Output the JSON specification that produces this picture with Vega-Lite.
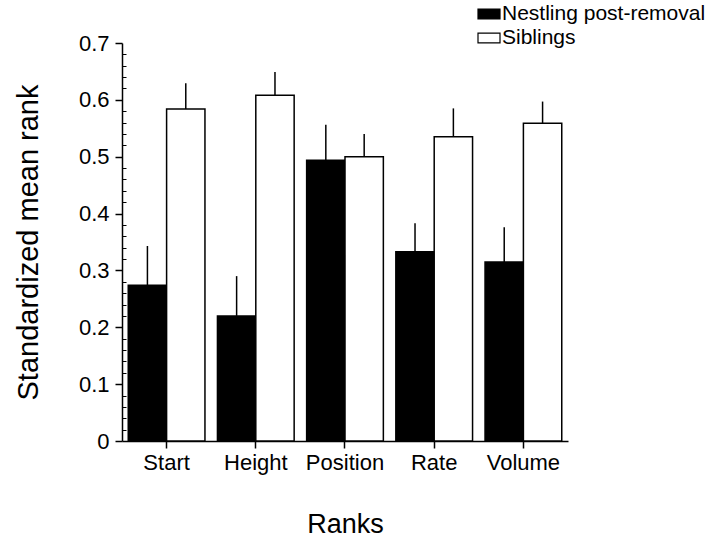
{
  "$schema": "https://vega.github.io/schema/vega-lite/v6.json",
  "width": 446,
  "height": 398,
  "autosize": "none",
  "padding": {"left": 122, "top": 43, "right": 142, "bottom": 98},
  "background": "white",
  "config": {
    "view": {"stroke": null},
    "font": "Liberation Sans",
    "axis": {
      "domainColor": "black",
      "domainWidth": 1.5,
      "tickColor": "black",
      "tickWidth": 1.5,
      "labelColor": "black",
      "titleColor": "black",
      "labelFont": "Liberation Sans",
      "titleFont": "Liberation Sans",
      "titleFontWeight": "normal",
      "grid": false
    }
  },
  "data": {
    "values": [
      {"rank": "Start", "group": "Nestling post-removal", "mean": 0.274, "upper": 0.343},
      {"rank": "Start", "group": "Siblings", "mean": 0.584, "upper": 0.629},
      {"rank": "Height", "group": "Nestling post-removal", "mean": 0.220, "upper": 0.290},
      {"rank": "Height", "group": "Siblings", "mean": 0.608, "upper": 0.649},
      {"rank": "Position", "group": "Nestling post-removal", "mean": 0.494, "upper": 0.556},
      {"rank": "Position", "group": "Siblings", "mean": 0.500, "upper": 0.540},
      {"rank": "Rate", "group": "Nestling post-removal", "mean": 0.333, "upper": 0.383},
      {"rank": "Rate", "group": "Siblings", "mean": 0.535, "upper": 0.585},
      {"rank": "Volume", "group": "Nestling post-removal", "mean": 0.315, "upper": 0.376},
      {"rank": "Volume", "group": "Siblings", "mean": 0.559, "upper": 0.597}
    ]
  },
  "layer": [
    {
      "mark": {"type": "bar", "stroke": "black", "strokeWidth": 1.5},
      "encoding": {
        "x": {
          "field": "rank",
          "type": "nominal",
          "sort": ["Start", "Height", "Position", "Rate", "Volume"],
          "scale": {"paddingInner": 0.14, "paddingOuter": 0.07},
          "axis": {
            "title": "Ranks",
            "titleFontSize": 27,
            "titleY": 91,
            "titleBaseline": "alphabetic",
            "labelFontSize": 22,
            "labelAngle": 0,
            "labelPadding": 4,
            "tickSize": 7
          }
        },
        "xOffset": {
          "field": "group",
          "type": "nominal",
          "sort": ["Nestling post-removal", "Siblings"],
          "scale": {"paddingInner": 0, "paddingOuter": 0}
        },
        "y": {
          "field": "mean",
          "type": "quantitative",
          "scale": {"domain": [0, 0.7], "nice": false, "zero": true},
          "axis": {
            "title": "Standardized mean rank",
            "titleFontSize": 29,
            "titleX": -94,
            "titleY": 199,
            "titleAngle": -90,
            "titleAlign": "center",
            "titleBaseline": "middle",
            "values": [0, 0.1, 0.2, 0.3, 0.4, 0.5, 0.6, 0.7],
            "format": ".1~f",
            "labelFontSize": 22,
            "labelPadding": 6,
            "tickSize": 7
          }
        },
        "fill": {
          "field": "group",
          "type": "nominal",
          "scale": {"domain": ["Nestling post-removal", "Siblings"], "range": ["black", "white"]},
          "legend": {
            "title": null,
            "orient": "none",
            "legendX": 355,
            "legendY": -41,
            "padding": 0,
            "symbolType": "M-1,-0.45H1V0.45H-1Z",
            "symbolSize": 484,
            "symbolStrokeColor": "black",
            "symbolStrokeWidth": 1.2,
            "labelFontSize": 21,
            "labelColor": "black",
            "labelFont": "Liberation Sans",
            "labelOffset": 1,
            "rowPadding": 2,
            "labelLimit": 400
          }
        }
      }
    },
    {
      "mark": {"type": "rule", "color": "black", "strokeWidth": 1.5},
      "encoding": {
        "x": {"field": "rank", "type": "nominal", "sort": ["Start", "Height", "Position", "Rate", "Volume"]},
        "xOffset": {"field": "group", "type": "nominal", "sort": ["Nestling post-removal", "Siblings"]},
        "y": {
          "field": "mean",
          "type": "quantitative",
          "axis": {
            "orient": "left",
            "title": null,
            "domain": false,
            "labels": false,
            "tickSize": -4,
            "tickWidth": 1,
            "values": [0.02, 0.04, 0.06, 0.08, 0.12, 0.14, 0.16, 0.18, 0.22, 0.24, 0.26, 0.28, 0.32, 0.34, 0.36, 0.38, 0.42, 0.44, 0.46, 0.48, 0.52, 0.54, 0.56, 0.58, 0.62, 0.64, 0.66, 0.68]
          }
        },
        "y2": {"field": "upper"}
      }
    }
  ],
  "resolve": {"axis": {"y": "independent"}}
}
